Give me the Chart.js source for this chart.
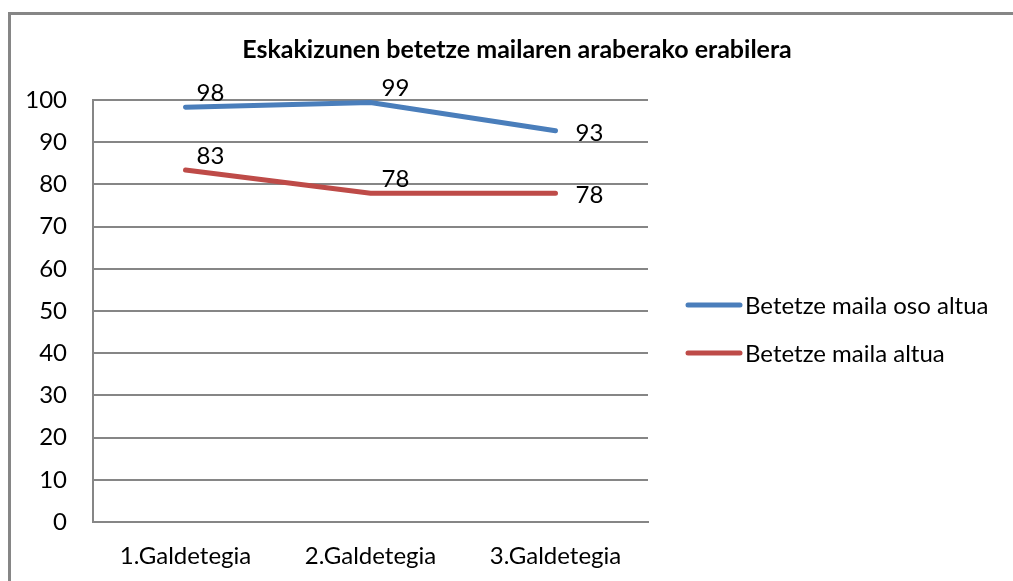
<!DOCTYPE html>
<html>
<head>
<meta charset="utf-8">
<script src="https://cdn.jsdelivr.net/npm/chart.js@4.4.1/dist/chart.umd.min.js"></script>
<style>
  html, body { margin: 0; padding: 0; background: #ffffff; overflow: hidden; }
  canvas { display: block; }
</style>
</head>
<body>
<canvas id="lineChart" width="1013" height="581"></canvas>
<script>
// Chart data
const chartTitle = "Eskakizunen betetze mailaren araberako erabilera";
const categories = ["1.Galdetegia", "2.Galdetegia", "3.Galdetegia"];
const seriesNames = ["Betetze maila oso altua", "Betetze maila altua"];
const veryHighValues = [98.3, 99.4, 92.7];
const highValues = [83.4, 77.9, 77.9];
const yTicks = [0, 10, 20, 30, 40, 50, 60, 70, 80, 90, 100];

const FONT = "Lato, Carlito, Calibri, sans-serif";
const colors = ["#4a7ebb", "#be4b48"];
const gridColor = "#868686";

// Frame, title, data labels and legend drawn by hand
const decorations = {
  id: "decorations",
  beforeDraw(chart) {
    const ctx = chart.ctx;
    ctx.save();
    ctx.fillStyle = "#ffffff";
    ctx.fillRect(0, 0, chart.width, chart.height);
    ctx.strokeStyle = gridColor;
    ctx.lineWidth = 3;
    ctx.strokeRect(9.5, 13.5, chart.width + 20, chart.height + 20);
    ctx.restore();
  },
  afterDraw(chart) {
    const ctx = chart.ctx;
    ctx.save();

    // title
    ctx.fillStyle = "#000000";
    ctx.font = "bold 25px " + FONT;
    ctx.textAlign = "center";
    ctx.textBaseline = "middle";
    ctx.fillText(chartTitle, 517, 50);

    // value labels
    ctx.font = "24px " + FONT;
    chart.data.datasets.forEach((ds, di) => {
      const meta = chart.getDatasetMeta(di);
      meta.data.forEach((pt, i) => {
        const last = i === meta.data.length - 1;
        const dx = last ? 34 : 25;
        const dy = last ? 2 : -14;
        ctx.fillText(Math.round(ds.data[i]), pt.x + dx, pt.y + dy);
      });
    });

    // legend
    ctx.textAlign = "left";
    chart.data.datasets.forEach((ds, di) => {
      const y = 305 + di * 48;
      ctx.strokeStyle = ds.borderColor;
      ctx.lineWidth = 5;
      ctx.lineCap = "round";
      ctx.beginPath();
      ctx.moveTo(688, y);
      ctx.lineTo(740, y);
      ctx.stroke();
      ctx.fillStyle = "#000000";
      ctx.fillText(ds.label, 745, y + 1);
    });
    ctx.restore();
  }
};

new Chart(document.getElementById("lineChart"), {
  type: "line",
  data: {
    labels: categories,
    datasets: [
      {
        label: seriesNames[0],
        data: veryHighValues,
        borderColor: colors[0],
        backgroundColor: colors[0],
        borderWidth: 5,
        borderCapStyle: "round",
        pointRadius: 0,
        tension: 0
      },
      {
        label: seriesNames[1],
        data: highValues,
        borderColor: colors[1],
        backgroundColor: colors[1],
        borderWidth: 5,
        borderCapStyle: "round",
        pointRadius: 0,
        tension: 0
      }
    ]
  },
  options: {
    responsive: false,
    animation: false,
    devicePixelRatio: 1,
    layout: { padding: { left: 10, top: 100, right: 365, bottom: 0 } },
    plugins: {
      legend: { display: false },
      title: { display: false },
      tooltip: { enabled: false }
    },
    scales: {
      x: {
        offset: true,
        grid: { display: false, drawTicks: false },
        border: { display: true, color: gridColor, width: 2 },
        ticks: { color: "#000000", font: { family: FONT, size: 24 }, padding: 20 },
        afterFit(scale) { scale.height = 59; }
      },
      y: {
        min: 0,
        max: 100,
        afterBuildTicks(scale) { scale.ticks = yTicks.map(v => ({ value: v })); },
        grid: { color: gridColor, lineWidth: 2, drawTicks: false },
        border: { display: true, color: gridColor, width: 2 },
        ticks: { color: "#000000", font: { family: FONT, size: 24 }, padding: 26 },
        afterFit(scale) { scale.width = 83; }
      }
    }
  },
  plugins: [decorations]
});
</script>
</body>
</html>
